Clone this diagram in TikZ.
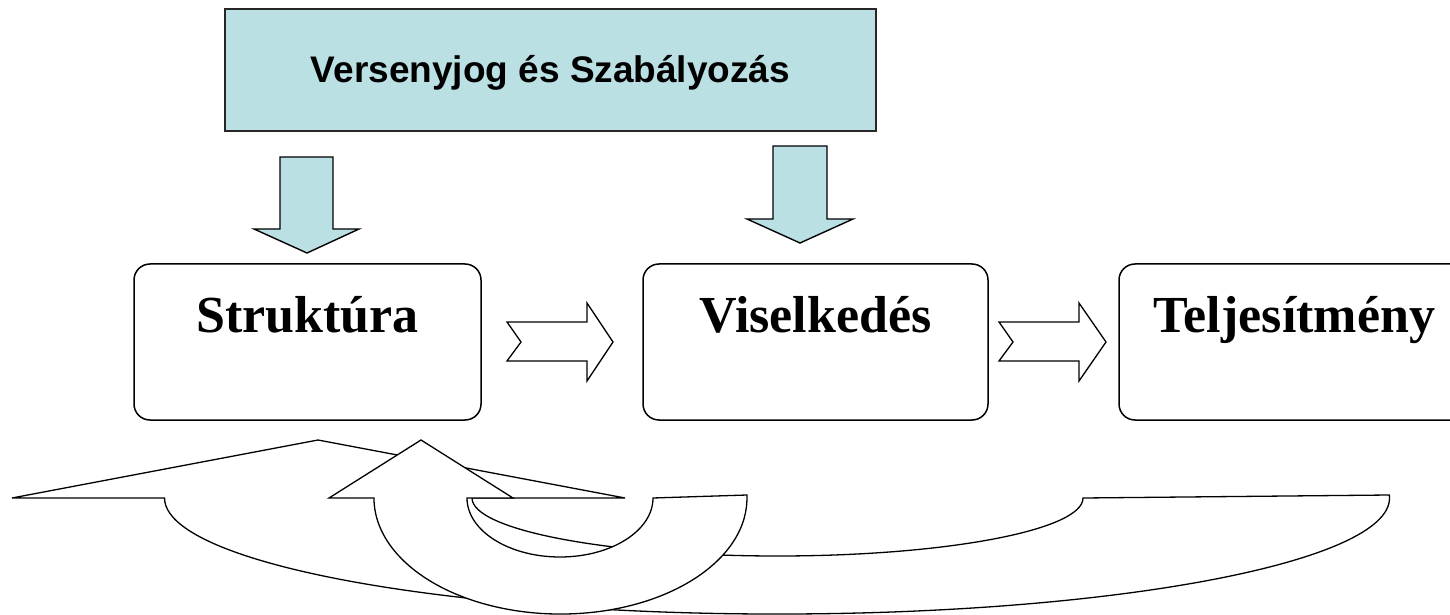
\documentclass[tikz,border=0pt]{standalone}
\usepackage{fontspec}
\setmainfont{Liberation Serif}
\newfontfamily\arialfont{Liberation Sans}
\definecolor{paleblue}{RGB}{187,224,227}
\begin{document}
\begin{tikzpicture}[x=1pt,y=1pt,line join=miter,
  stagebox/.style={draw=black,line width=1.5pt,rounded corners=16pt,fill=white,
    inner sep=0pt,text height=68pt,text depth=88pt,anchor=base,
    font=\fontsize{52}{56}\selectfont\bfseries},
  lawbox/.style={draw=black!85,line width=1.5pt,fill=paleblue,inner sep=0pt,
    text height=74pt,text depth=48pt,minimum width=651pt,anchor=base,
    font=\arialfont\fontsize{37}{40}\selectfont\bfseries},
  downarrow/.style={draw=black,line width=1.4pt,fill=paleblue},
  flowarrow/.style={draw=black,line width=1.3pt,fill=white},
  bentarrow/.style={draw=black,line width=1.3pt,fill=white}]
\useasboundingbox (0,0) rectangle (1450,614);
\clip (0,0) rectangle (1450,614);

% top box
\node[lawbox] (law) at (550.5,531) {Versenyjog és Szabályozás};

% stage boxes
\node[stagebox,minimum width=347pt] (struct) at (307.5,282) {Struktúra};
\node[stagebox,minimum width=345pt] (behav) at (815.5,282) {Viselkedés};
\node[stagebox,minimum width=351pt] (perf) at (1294.5,282) {Teljesítmény};

% down block arrows
\draw[downarrow] (280,457) -- (333,457) -- (333,385) -- (359,385) -- (307,361)
  -- (254,385) -- (280,385) -- cycle;
\draw[downarrow] (773,468) -- (827,468) -- (827,395) -- (853,395) -- (800,371)
  -- (747,395) -- (773,395) -- cycle;

% notched right arrows
\draw[flowarrow] (507,292) -- (587,292) -- (587,311) -- (613,272) -- (587,233)
  -- (587,253) -- (507,253) -- (521,272) -- cycle;
\draw[flowarrow] (999,292) -- (1079,292) -- (1079,311) -- (1106,272) -- (1079,233)
  -- (1079,253) -- (999,253) -- (1013,272) -- cycle;

% large curved up arrow
\draw[bentarrow] (12,116) -- (318,174) -- (625,116) -- (472,116)
  arc[start angle=180,end angle=360,x radius=305.5pt,y radius=58pt]
  -- (1389.3,119)
  arc[start angle=1.5,end angle=-180,x radius=612.5pt,y radius=116pt]
  -- cycle;

% small curved up arrow
\draw[bentarrow] (329,116) -- (421,174) -- (513,116) -- (467,116)
  arc[start angle=180,end angle=360,x radius=93pt,y radius=59pt]
  -- (746.9,119)
  arc[start angle=1.5,end angle=-180,x radius=186.5pt,y radius=116pt]
  -- cycle;
\end{tikzpicture}
\end{document}
